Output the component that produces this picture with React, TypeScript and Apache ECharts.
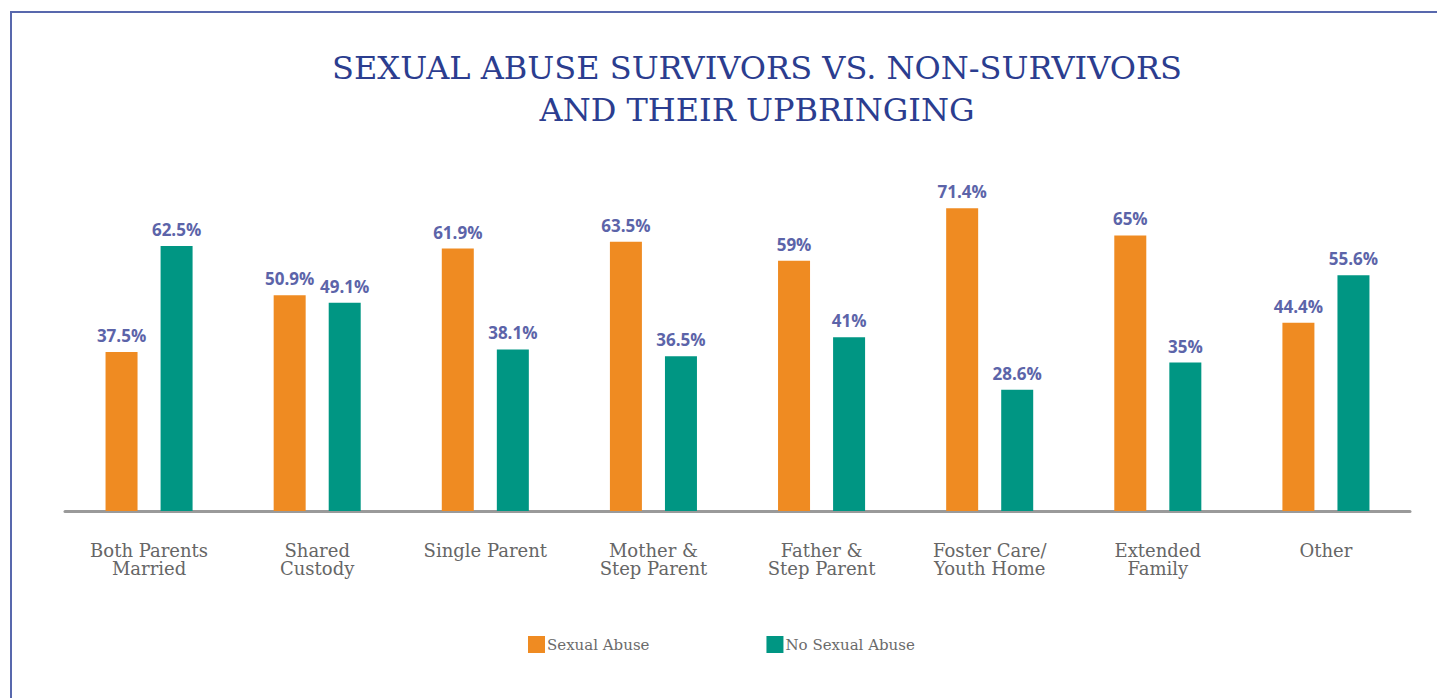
import React, { useEffect, useRef } from "react";
import * as echarts from "echarts";

const categories = [
  "Both Parents\nMarried",
  "Shared\nCustody",
  "Single Parent",
  "Mother &\nStep Parent",
  "Father &\nStep Parent",
  "Foster Care/\nYouth Home",
  "Extended\nFamily",
  "Other",
];
const sexualAbuse = [37.5, 50.9, 61.9, 63.5, 59, 71.4, 65, 44.4];
const noSexualAbuse = [62.5, 49.1, 38.1, 36.5, 41, 28.6, 35, 55.6];
const seriesNames = ["Sexual Abuse", "No Sexual Abuse"];
const titleText = "SEXUAL ABUSE SURVIVORS VS. NON-SURVIVORS\nAND THEIR UPBRINGING";

export default function App() {
  const ref = useRef<HTMLDivElement>(null);
  useEffect(() => {
    if (!ref.current) return;
    const chart = echarts.init(ref.current, null, { renderer: "svg" });
    const labelStyle = {
      show: true,
      position: "top",
      distance: 8,
      formatter: "{c}%",
      color: "#5c64a9",
      fontFamily: "Open Sans",
      fontWeight: "bold",
      fontSize: 17,
    };
    chart.setOption({
      animation: false,
      backgroundColor: "#ffffff",
      title: {
        text: titleText,
        left: 752,
        textAlign: "center",
        top: 42,
        textStyle: {
          color: "#2b3d8f",
          fontFamily: "DejaVu Serif",
          fontWeight: "normal",
          fontSize: 32,
          lineHeight: 42,
        },
      },
      legend: {
        data: seriesNames,
        left: 523,
        top: 631,
        itemWidth: 17,
        itemHeight: 17,
        itemGap: 117,
        icon: "rect",
        textStyle: {
          color: "#6b6b6b",
          fontFamily: "DejaVu Serif",
          fontSize: 15,
          padding: [0, 0, 0, -3],
        },
      },
      grid: { left: 65, right: 27, top: 87, bottom: 187 },
      xAxis: {
        type: "category",
        data: categories,
        axisLine: { lineStyle: { color: "#9a9a9a", width: 3 } },
        axisTick: { show: false },
        axisLabel: {
          color: "#666666",
          fontFamily: "DejaVu Serif",
          fontSize: 18,
          lineHeight: 18.5,
          margin: 30,
          interval: 0,
        },
      },
      yAxis: {
        type: "value",
        min: 0,
        max: 100,
        show: false,
        splitLine: { show: false },
      },
      series: [
        {
          name: seriesNames[0],
          type: "bar",
          data: sexualAbuse,
          barWidth: 32,
          barGap: "72%",
          itemStyle: { color: "#ef8b22" },
          label: labelStyle,
        },
        {
          name: seriesNames[1],
          type: "bar",
          data: noSexualAbuse,
          barWidth: 32,
          itemStyle: { color: "#009683" },
          label: labelStyle,
        },
      ],
      graphic: [
        {
          type: "polyline",
          shape: { points: [[11, 698], [11, 12], [1437, 12]] },
          style: { stroke: "#5868ad", lineWidth: 2, fill: "none" },
          silent: true,
        },
      ],
    });
    return () => chart.dispose();
  }, []);
  return (
    <div
      ref={ref}
      style={{ position: "fixed", left: 0, top: 0, width: 1437, height: 698 }}
    />
  );
}
